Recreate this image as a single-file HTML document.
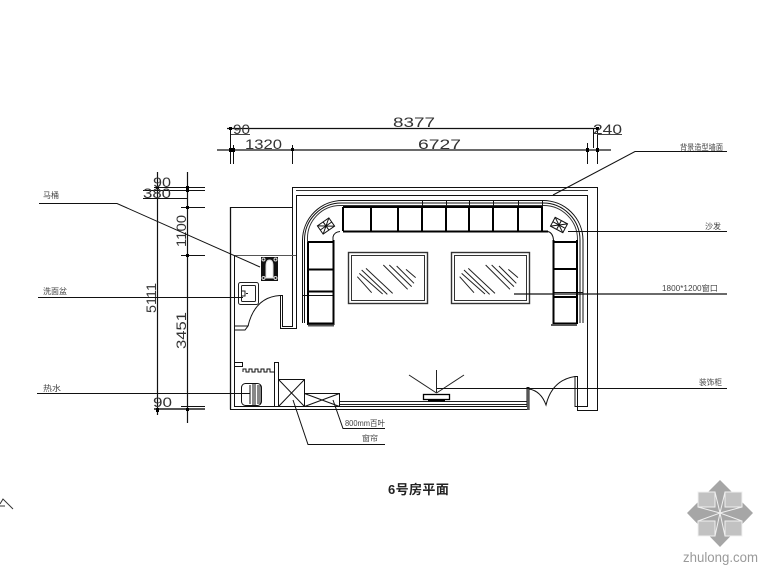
<!DOCTYPE html>
<html>
<head>
<meta charset="utf-8">
<style>
html,body{margin:0;padding:0;background:#fff;width:780px;height:585px;overflow:hidden}
svg{display:block;filter:blur(.25px)}
.t{font-family:"Liberation Sans",sans-serif;font-size:14px;fill:#333}
.c{font-family:"Liberation Sans","Noto Sans CJK SC",sans-serif;font-size:8px;fill:#444}
</style>
</head>
<body>
<svg width="780" height="585" viewBox="0 0 780 585" xmlns="http://www.w3.org/2000/svg">
<rect width="780" height="585" fill="#fff"/>

<!-- top dimensions -->
<g fill="none" stroke="#111" stroke-width="1">
<path d="M227 128.500H598M217 150H611" stroke-width="1.200"/>
<path d="M230.500 128V164M233.500 145V164M292.500 145V164M587.500 143V164M597.500 128V164M593.500 128V148"/>
<path d="M231 134.500H250M597 134.500H622" stroke="#444"/>
<!-- left dimensions -->
<path d="M157.500 172V415M187.500 172V423" stroke-width="1.200"/>
<path d="M154 187.500H205M143 190.500H205M143 198.500H187M181 207.500H205M181 255.500H205M181 406.500H205"/>
<path d="M154 409H205" stroke="#555" stroke-width="2"/>
</g>
<g fill="#000">
<rect x="229" y="127" width="3" height="3"/><rect x="229" y="148" width="3" height="4"/><rect x="232" y="148" width="3" height="4"/>
<rect x="291" y="148" width="3" height="3"/><rect x="586" y="148" width="3" height="4"/><rect x="596" y="148" width="3" height="4"/>
<rect x="596" y="127" width="3" height="3"/>
<rect x="156" y="186" width="3" height="3"/><rect x="186" y="186" width="3" height="3"/><rect x="186" y="189" width="3" height="3"/>
<rect x="186" y="206" width="3" height="3"/><rect x="186" y="254" width="3" height="3"/><rect x="156" y="408" width="3" height="4"/><rect x="186" y="408" width="3" height="3"/>
</g>
<g class="t">
<text class="t" x="393" y="127" textLength="42" lengthAdjust="spacingAndGlyphs">8377</text>
<text class="t" x="418" y="149" textLength="43" lengthAdjust="spacingAndGlyphs">6727</text>
<text class="t" x="245" y="149" textLength="37" lengthAdjust="spacingAndGlyphs">1320</text>
<text class="t" x="233" y="134" textLength="17" lengthAdjust="spacingAndGlyphs">90</text>
<text class="t" x="593" y="134" textLength="29" lengthAdjust="spacingAndGlyphs">240</text>
<text class="t" x="153" y="187" textLength="18" lengthAdjust="spacingAndGlyphs">90</text>
<text class="t" x="143" y="198" textLength="28" lengthAdjust="spacingAndGlyphs">380</text>
<text class="t" x="153" y="407" textLength="19" lengthAdjust="spacingAndGlyphs">90</text>
<text class="t" transform="translate(156,313) rotate(-90)" textLength="30" lengthAdjust="spacingAndGlyphs">5111</text>
<text class="t" transform="translate(186,247) rotate(-90)" textLength="32" lengthAdjust="spacingAndGlyphs">1100</text>
<text class="t" transform="translate(186,349) rotate(-90)" textLength="37" lengthAdjust="spacingAndGlyphs">3451</text>
</g>

<!-- walls -->
<g fill="none" stroke="#111" stroke-width="1">
<path d="M292.500 207V187.500H597.500V410.500H577.500V376.500H575V406.500H587.500V195.500H296.500V328.500H280.500V295.500H282.500V326.500H292.500V207"/>
<path d="M296 190.500H588" stroke="#333"/>
<path d="M292 207.500H230.500V409.500H529V387.500H527V406.500H234.500V255"/>
<path d="M234.500 330H245L248 326H234.500"/>
<path d="M234 255.500H296" stroke="#555"/>
<path d="M340 401.500H527M340 404.500H527" stroke="#222"/>
<path d="M529 389Q541 391 546 405Q552 380 575 376.500"/>
<path d="M280 295.500Q255 297 248 326"/>
</g>
<path d="M528 388V410" stroke="#555" stroke-width="2"/>
<path d="M230.500 207V409.500" stroke="#111" stroke-width="1.300"/>

<!-- sofa -->
<g fill="none" stroke="#111" stroke-width="1">
<path d="M302.500 323V240A40 40 0 0 1 342.500 200.500H543A40 40 0 0 1 583 240V323"/>
<path d="M304.500 323V240A37 37 0 0 1 341.500 203H543A37 37 0 0 1 580 240V323"/>
<path d="M307.500 323V240A33 33 0 0 1 340.500 205.500H543A34 34 0 0 1 577.500 240V323" stroke="#333"/>
<path d="M422.500 200V207M446.500 200V207M469.500 200V207M493.500 200V207M518.500 200V207M542.500 200V207"/>
<path d="M333 242V237Q334 232 340 231.500M548 231.500Q553 233 553.500 240"/>
<path d="M302 295.500H334M553 292.500H583M553 323.500H577"/>
</g>
<g fill="none" stroke="#000" stroke-width="2">
<path d="M343 207H542M343 207V231M371 207V231M398 207V231M422 207V231M446 207V231M469 207V231M493 207V231M518 207V231M542 207V231M343 231.500H548"/>
<path d="M308 242H333M308 269.500H333M308 291.500H333M333.500 240V325M308 242V325M308 323.500H333"/>
<path d="M553 242H577M553 269H577M553 297H577M553.500 240V324M577 240V324M553 323.500H577"/>
</g>
<path d="M308 325.500H334M551 325H577" stroke="#555" stroke-width="2"/>

<!-- corner cushions -->
<g fill="none" stroke="#111" stroke-width="1">
<g transform="translate(326 226) rotate(-35)"><rect x="-7" y="-5" width="14" height="10"/><path d="M-7 -5L7 5M-7 5L7 -5M0 -5V5M-7 0H7"/></g>
<g transform="translate(559 225) rotate(28)"><rect x="-7" y="-5" width="14" height="10"/><path d="M-7 -5L7 5M-7 5L7 -5M0 -5V5M-7 0H7"/></g>
</g>

<!-- windows -->
<g fill="none" stroke="#333" stroke-width="1">
<rect x="348.500" y="252.500" width="79" height="51" stroke-width="1.400"/><rect x="351.500" y="255.500" width="73" height="45"/>
<rect x="451.500" y="252.500" width="78" height="51" stroke-width="1.400"/><rect x="454.500" y="255.500" width="72" height="45"/>
</g>
<g stroke="#222" stroke-width="3" fill="none" transform="translate(340 240) scale(.3333)">
<path d="M52 110L95 158M58 100L128 162M65 90L142 163M78 85L158 160M130 75L203 148M148 75L215 140M170 78L222 130M198 88L227 113"/>
<g transform="translate(307 0)"><path d="M52 110L95 158M58 100L128 162M65 90L142 163M78 85L158 160M130 75L203 148M148 75L215 140M170 78L222 130M198 88L227 113"/></g>
</g>

<!-- TV -->
<rect x="423.500" y="394.500" width="26" height="5" fill="#fff" stroke="#000" stroke-width="1.300"/>
<rect x="428" y="399" width="17" height="2.500" fill="#000"/>
<path d="M436.500 393L409 375M436.500 393V370M436.500 393L464 375" fill="none" stroke="#222" stroke-width="1"/>

<!-- toilet -->
<rect x="261" y="257" width="17" height="24" fill="#111"/>
<g fill="none" stroke="#ddd" stroke-width="1">
<path d="M266 278V266Q266 260 269.500 260Q273 260 273 266V278Z" fill="#fff"/>
<circle cx="263.500" cy="259.500" r="1.500"/><circle cx="275.500" cy="259.500" r="1.500"/><circle cx="263.500" cy="278" r="1.500"/><circle cx="275.500" cy="278" r="1.500"/>
</g>
<!-- basin -->
<g fill="none" stroke="#222" stroke-width="1">
<rect x="238.500" y="282.500" width="20" height="22" rx="2"/><rect x="241.500" y="285.500" width="14" height="16" rx="1"/>
<path d="M241 291H245V296H241M246 293.500H248"/>
</g>

<!-- lower left -->
<g fill="none" stroke="#111" stroke-width="1">
<rect x="234.500" y="362.500" width="8" height="4"/>
<path d="M243 372V369H246V372H249V369H252V372H255V369H258V372H261V369H264V372H267V369H270V372H274"/>
<rect x="274.500" y="362.500" width="4" height="44"/>
<rect x="278.500" y="379.500" width="26" height="27"/><path d="M278.500 379.500L304.500 406.500M304.500 379.500L278.500 406.500"/>
<rect x="304.500" y="393.500" width="35" height="13"/><path d="M304.500 393.500L339.500 406.500M339.500 393.500L304.500 406.500"/>
<rect x="241.500" y="383.500" width="20" height="22" rx="4"/>
<path d="M250 385L250 404M253 384V405M255 384V405M258 385V404M260 385V404"/>
</g>

<!-- leaders -->
<g fill="none" stroke="#111" stroke-width="1">
<path d="M39 203.500H117L260 267"/>
<path d="M38 297.500H243" stroke-width="1.100"/>
<path d="M37 393.500H250" stroke-width="1.100"/>
<path d="M293 400L308 444.500H385"/>
<path d="M333 400L343 428.500H385"/>
<path d="M553 195L635 151.500H727"/>
<path d="M568 231.500H727"/>
<path d="M514 294H727" stroke-width="1.200"/>
<path d="M437 388.500H727"/>
</g>

<!-- small labels -->
<text class="c" x="43" y="198">马桶</text>
<text class="c" x="43" y="294" textLength="24" lengthAdjust="spacingAndGlyphs">洗面盆</text>
<text class="c" x="43" y="391" textLength="18" lengthAdjust="spacingAndGlyphs">热水</text>
<text class="c" x="680" y="150" textLength="43" lengthAdjust="spacingAndGlyphs">背景造型墙面</text>
<text class="c" x="705" y="229" textLength="16" lengthAdjust="spacingAndGlyphs">沙发</text>
<text class="c" x="662" y="291" textLength="56" lengthAdjust="spacingAndGlyphs">1800*1200窗口</text>
<text class="c" x="699" y="385" textLength="23" lengthAdjust="spacingAndGlyphs">装饰柜</text>
<text class="c" x="345" y="426" textLength="40" lengthAdjust="spacingAndGlyphs">800mm百叶</text>
<text class="c" x="362" y="441" textLength="16" lengthAdjust="spacingAndGlyphs">窗帘</text>

<!-- title -->
<text x="388" y="494" font-family="'Liberation Sans','Noto Sans CJK SC',sans-serif" font-size="13" font-weight="bold" letter-spacing=".4" fill="#222">6号房平面</text>

<!-- compass fragment -->
<path d="M0 504L3 499L13 509M0 506H5" fill="none" stroke="#333" stroke-width="1"/>

<!-- logo -->
<polygon points="720,480 753,513 720,547 687,513" fill="#a6a6a6"/>
<g fill="#c2c2c2" stroke="#f0f0f0" stroke-width="1">
<rect x="698" y="492" width="17" height="15"/>
<rect x="725" y="492" width="17" height="15"/>
<rect x="698" y="521" width="17" height="15"/>
<rect x="725" y="521" width="17" height="15"/>
</g>
<path d="M715 492L720 513L725 492M698 507L720 513L742 507M698 521L720 513L742 521M715 536L720 513L725 536" fill="none" stroke="#f0f0f0" stroke-width="1"/>
<text x="683" y="562" font-family="'Liberation Sans',sans-serif" font-size="14" textLength="75" lengthAdjust="spacingAndGlyphs" fill="#9a9a9a">zhulong.com</text>
</svg>
</body>
</html>
